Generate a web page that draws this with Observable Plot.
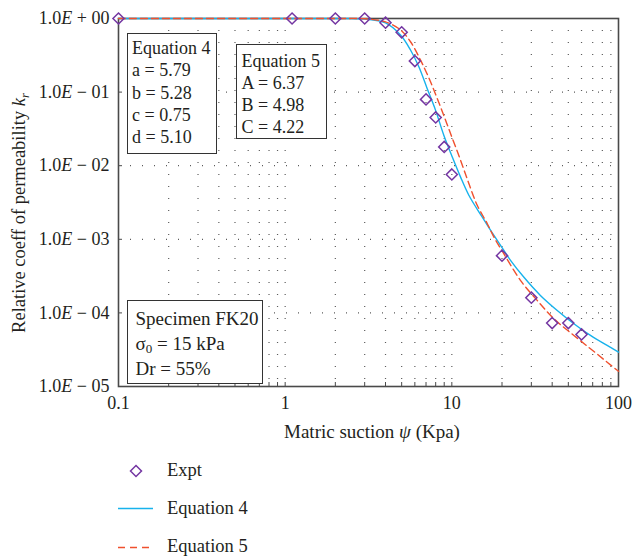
<!DOCTYPE html>
<html><head><meta charset="utf-8">
<script src="https://cdn.jsdelivr.net/npm/d3@7"></script>
<script src="https://cdn.jsdelivr.net/npm/@observablehq/plot@0.6"></script>
<style>
body{margin:0;background:#fff;font-family:"Liberation Serif",serif;color:#231f20;}
#wrap{position:relative;width:632px;height:559px;overflow:hidden;}
.box{position:absolute;border:1.5px solid #333;background:#fff;font-size:18px;box-sizing:border-box;white-space:nowrap;}
.lg{position:absolute;font-size:18.5px;line-height:20px;}
sub{font-size:13px;vertical-align:-3px;line-height:0;}
</style>
</head><body>
<div id="wrap"></div>
<script>
// Experimental points
const exptX = [0.1, 1.1, 2, 3, 4, 5, 6, 7, 8, 9, 10, 20, 30, 40, 50, 60];
const exptY = [1, 1, 1, 1, 0.877, 0.649, 0.264, 0.0796, 0.0453, 0.018, 0.0076, 6.0e-4, 1.61e-4, 7.27e-5, 7.27e-5, 5.1e-5];
// Equation 4 curve
const eq4X = [0.1, 1, 2, 3, 4.0, 4.92, 5.65, 6.34, 7.11, 7.98, 8.95, 10.05, 11.27, 12.65, 15.2, 17.06, 19.6, 22.5, 27.0, 34.0, 42.9, 54.0, 67.9, 85.5, 100];
const eq4Y = [1, 1, 1, 0.985, 0.87, 0.596, 0.373, 0.221, 0.112, 0.0569, 0.026, 0.0132, 0.00705, 0.00397, 0.00201, 0.00133, 8.28e-4, 5.18e-4, 3.07e-4, 1.73e-4, 1.08e-4, 7.13e-5, 4.94e-5, 3.61e-5, 2.93e-5];
// Equation 5 curve
const eq5X = [0.1, 1, 2, 3, 4.0, 4.92, 5.65, 6.49, 7.45, 8.55, 9.82, 11.27, 12.65, 14.2, 16.3, 17.9, 20.5, 25.8, 32.5, 40.9, 54.0, 67.9, 85.5, 100];
const eq5Y = [1, 1, 1, 0.99, 0.9, 0.70, 0.483, 0.272, 0.138, 0.063, 0.0274, 0.0119, 0.00573, 0.0029, 0.00164, 0.00107, 6.38e-4, 2.77e-4, 1.48e-4, 8.34e-5, 4.94e-5, 3.26e-5, 2.14e-5, 1.61e-5];
// Ticks
const xLabels = [0.1, 1, 10, 100];
const xMinor = [0.2,0.3,0.4,0.5,0.6,0.7,0.8,0.9,1,2,3,4,5,6,7,8,9,10,20,30,40,50,60,70,80,90];
const yTicks = [1, 1e-1, 1e-2, 1e-3, 1e-4, 1e-5];
const yGrid = [1e-1, 1e-2, 1e-3, 1e-4];

const expt = exptX.map((x, i) => ({x, y: exptY[i]}));
const eq4 = eq4X.map((x, i) => ({x, y: eq4Y[i]}));
const eq5 = eq5X.map((x, i) => ({x, y: eq5Y[i]}));

const C_EXPT = "#7436a2", C_EQ4 = "#17b2ec", C_EQ5 = "#f0502e", AXIS = "#4a4a4a";

const W = 632, H = 420, ML = 118, MR = 14, MT = 18, MB = 34;
const FW = W - ML - MR, FH = H - MT - MB;

const yfmt = d => {
  const e = Math.round(Math.log10(d));
  return "1.0E " + (e < 0 ? "\u2212 " : "+ ") + String(Math.abs(e)).padStart(2, "0");
};

const chart = Plot.plot({
  width: W, height: H,
  marginLeft: ML, marginRight: MR, marginTop: MT, marginBottom: MB,
  x: {type: "log", domain: [0.1, 100]},
  y: {type: "log", domain: [1e-5, 1]},
  style: {fontFamily: "Liberation Serif, serif", fontSize: "18px", color: "#231f20", background: "#fff"},
  marks: [
    Plot.ruleX(xMinor, {stroke: "#333", strokeWidth: 1.2, strokeDasharray: "1,11", strokeOpacity: 0.8}),
    Plot.ruleY(yGrid, {stroke: "#333", strokeWidth: 1.2, strokeDasharray: "1,11", strokeOpacity: 0.8}),
    Plot.ruleX(xMinor, {stroke: AXIS, strokeWidth: 1, insetTop: FH - 4}),
    Plot.ruleY(yGrid, {stroke: AXIS, strokeWidth: 1, insetRight: FW - 4}),
    Plot.axisX({ticks: xLabels, tickSize: 0, tickPadding: 10, tickFormat: d => String(d), label: null}),
    Plot.axisY({ticks: yTicks, tickSize: 0, tickPadding: 9, tickFormat: yfmt, label: null}),
    Plot.frame({stroke: AXIS, strokeWidth: 1.6}),
    Plot.line(eq4, {x: "x", y: "y", stroke: C_EQ4, strokeWidth: 1.4, curve: "catmull-rom"}),
    Plot.line(eq5, {x: "x", y: "y", stroke: C_EQ5, strokeWidth: 1.4, strokeDasharray: "7,4", curve: "catmull-rom"}),
    Plot.dot(expt, {x: "x", y: "y", symbol: "diamond2", r: 5, stroke: C_EXPT, strokeWidth: 1.5, fill: "none"})
  ]
});

// italic E in y tick labels
d3.select(chart).selectAll('g[aria-label="y-axis tick label"] text').each(function() {
  const t = this.textContent;
  const parts = t.split("E");
  const s = d3.select(this);
  s.text(null);
  s.append("tspan").text(parts[0]);
  s.append("tspan").attr("font-style", "italic").text("E");
  s.append("tspan").text(parts[1]);
});

const svg = d3.select(chart);
// y axis label
const yl = svg.append("text").attr("transform", "translate(25,213) rotate(-90)")
  .attr("text-anchor", "middle").attr("font-size", 18.5).attr("fill", "#231f20");
yl.append("tspan").text("Relative coeff of permeability ");
yl.append("tspan").attr("font-style", "italic").text("k");
yl.append("tspan").attr("font-style", "italic").attr("font-size", 12.5).attr("dy", 4).text("r");
// x axis label
const xl = svg.append("text").attr("x", 372).attr("y", 438)
  .attr("text-anchor", "middle").attr("font-size", 19).attr("fill", "#231f20");
xl.append("tspan").text("Matric suction ");
xl.append("tspan").attr("font-style", "italic").text("\u03c8");
xl.append("tspan").text(" (Kpa)");
chart.setAttribute("height", 445);
chart.setAttribute("viewBox", "0 0 632 445");
chart.style.height = "445px";
chart.style.overflow = "visible";

const wrap = document.getElementById("wrap");
wrap.appendChild(chart);

function box(left, top, w, h, pt, pl, lh, fs, html) {
  const d = document.createElement("div");
  d.className = "box";
  Object.assign(d.style, {left: left + "px", top: top + "px", width: w + "px", height: h + "px",
    paddingTop: pt + "px", paddingLeft: pl + "px", lineHeight: lh + "px", fontSize: fs + "px"});
  d.innerHTML = html;
  wrap.appendChild(d);
}
box(127, 32.5, 89.5, 121, 3.5, 4, 22.3, 18, "Equation 4<br>a = 5.79<br>b = 5.28<br>c = 0.75<br>d = 5.10");
box(236, 44, 91, 95, 5, 4.5, 22, 18, "Equation 5<br>A = 6.37<br>B = 4.98<br>C = 4.22");
box(127, 300, 135.5, 84, 4.5, 7.5, 25, 19, "Specimen FK20<br>\u03c3<sub>0</sub> = 15 kPa<br>Dr = 55%");

// legend
function lg(top, html) {
  const d = document.createElement("div");
  d.className = "lg";
  d.style.left = "167px"; d.style.top = (top - 10) + "px";
  d.innerHTML = html;
  wrap.appendChild(d);
}
const leg = document.createElementNS("http://www.w3.org/2000/svg", "svg");
leg.setAttribute("width", 60); leg.setAttribute("height", 110);
Object.assign(leg.style, {position: "absolute", left: "110px", top: "450px"});
leg.innerHTML =
  `<path d="M26,15.5 L31.5,21 L26,26.5 L20.5,21 Z" fill="none" stroke="${C_EXPT}" stroke-width="1.5"/>` +
  `<line x1="8" x2="43" y1="58.5" y2="58.5" stroke="${C_EQ4}" stroke-width="1.6"/>` +
  `<line x1="8" x2="43" y1="97.5" y2="97.5" stroke="${C_EQ5}" stroke-width="1.6" stroke-dasharray="7,5"/>`;
wrap.appendChild(leg);
lg(470, "Expt");
lg(508, "Equation 4");
lg(546, "Equation 5");
</script>
</body></html>
